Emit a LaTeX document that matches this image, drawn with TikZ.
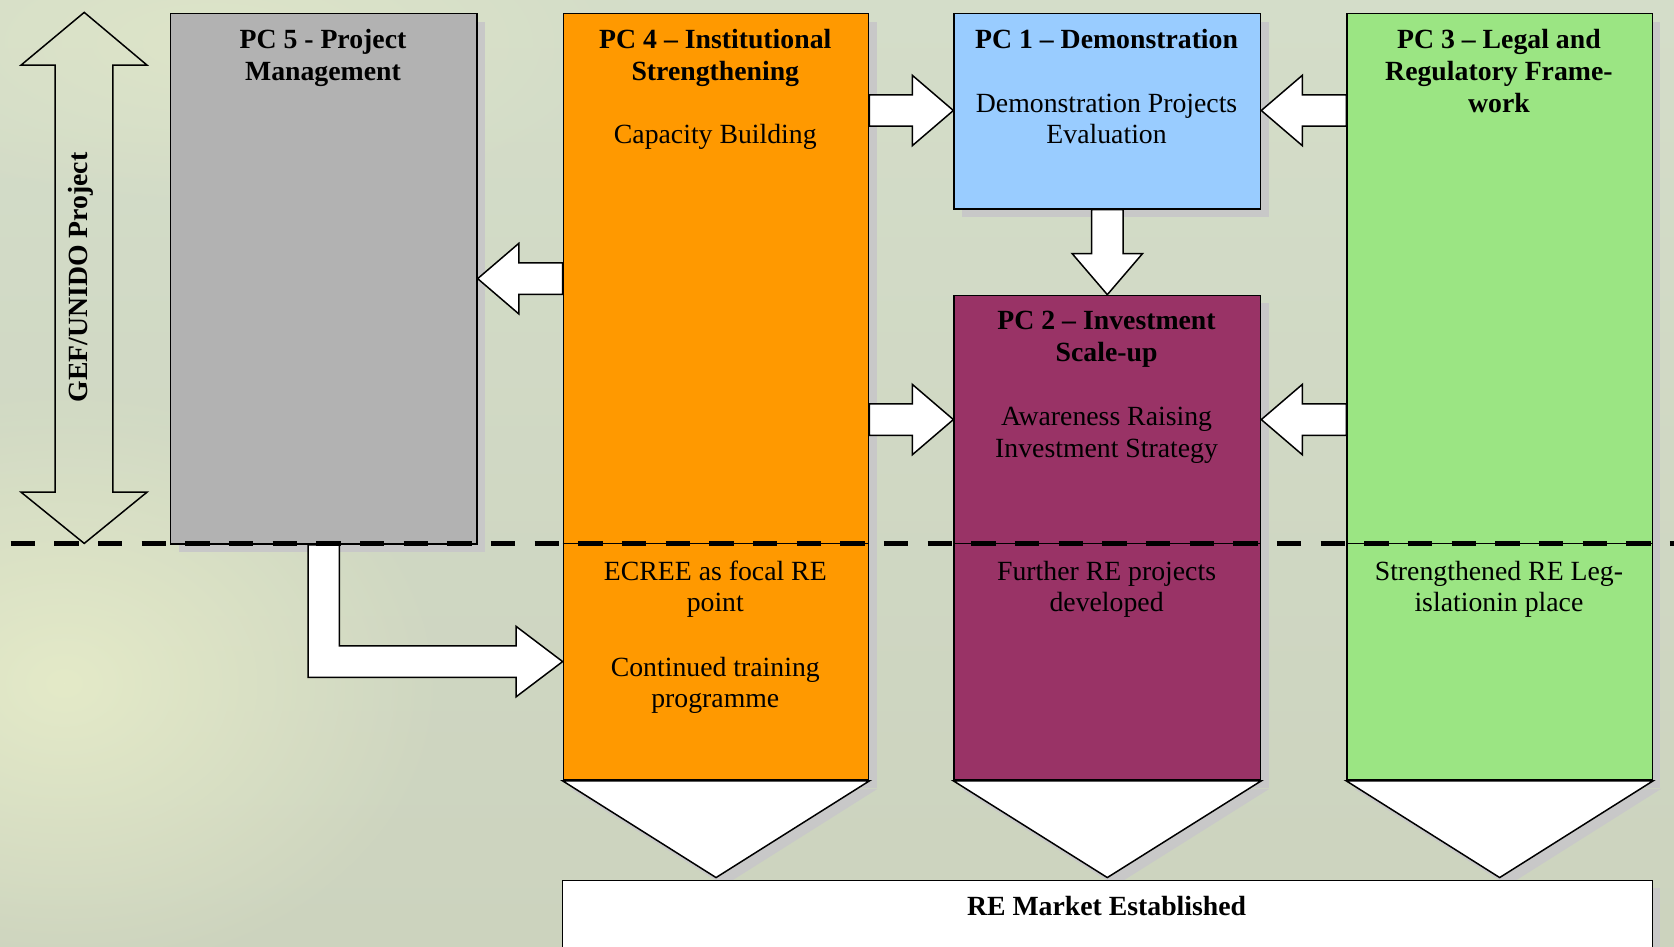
\documentclass[tikz,border=0pt]{standalone}
\usepackage{fontspec}
\setmainfont{Liberation Serif}
\usetikzlibrary{calc,shadows,fadings}
\definecolor{pcgray}{RGB}{178,178,178}
\definecolor{pcorange}{RGB}{255,153,0}
\definecolor{pcblue}{RGB}{153,204,255}
\definecolor{pcmaroon}{RGB}{153,51,102}
\definecolor{pcgreen}{RGB}{155,229,131}
\definecolor{shadowc}{RGB}{200,200,200}
\definecolor{bgtop}{RGB}{212,221,201}
\definecolor{bgmid}{RGB}{194,200,185}
\definecolor{bgbot}{RGB}{204,211,190}
\definecolor{glowc}{RGB}{228,234,200}
\tikzfading[name=myfade, inner color=transparent!0, outer color=transparent!100]
\tikzset{
  shd/.style={drop shadow={shadow xshift=3.75pt, shadow yshift=-3.75pt, fill=shadowc, opacity=1}},
  pcbox/.style={draw=black, line width=0.7pt, rectangle, inner sep=0pt, anchor=north west, shd},
  blk/.style={draw=black, fill=white, line width=0.7pt, line join=miter},
  outl/.style={draw=black, line width=0.7pt, line join=miter},
  txt/.style={align=center, inner sep=0pt, anchor=north, font=\fontsize{13}{14.9}\selectfont},
  ttl/.style={align=center, inner sep=0pt, anchor=north, font=\fontsize{13}{14.9}\selectfont\bfseries},
  divline/.style={line width=0.6pt},
  phase/.style={line width=2.6pt, dash pattern=on 11.4pt off 9.05pt},
}
\newcommand\mkbox[6]{\node[pcbox, fill=#6, minimum width={(#4-#2)*0.5pt}, minimum height={(#5-#3)*0.5pt}] (#1) at (#2,#3) {};}
\newcommand\blockarrow[2]{%
  \coordinate (bah) at ($(#2)!19.25pt!(#1)$);
  \filldraw[blk] ($(#1)!7.35pt!90:(#2)$) -- ($(bah)!7.35pt!90:(#2)$) -- ($(bah)!16.5pt!90:(#2)$) -- (#2)
    -- ($(bah)!16.5pt!-90:(#2)$) -- ($(bah)!7.35pt!-90:(#2)$) -- ($(#1)!7.35pt!-90:(#2)$) -- cycle;}
\begin{document}
\begin{tikzpicture}[x=0.5pt,y=-0.5pt]
\useasboundingbox (0,0) rectangle (1568,887);
\clip (0,0) rectangle (1568,887);
% background
\shade[top color=bgtop, middle color=bgmid, bottom color=bgbot] (0,0) rectangle (1568,887);
\fill[glowc, path fading=myfade] (60,640) ellipse [x radius=360, y radius=280];
\fill[glowc, path fading=myfade, opacity=0.6] (200,40) ellipse [x radius=400, y radius=160];

% double arrow
\draw[outl] (78.9,11.6) -- (137.7,61) -- (105.8,61) -- (105.8,461) -- (137.7,461) -- (78.9,509)
  -- (19.7,461) -- (51.6,461) -- (51.6,61) -- (19.7,61) -- cycle;
\node[ttl, anchor=center, rotate=90] (gef) at (76,260) {GEF/UNIDO Project};

% boxes
\mkbox{pc5}{159}{12}{446}{509}{pcgray}
\mkbox{pc4}{527}{12}{813}{730}{pcorange}
\mkbox{pc1}{893}{12}{1180}{195}{pcblue}
\mkbox{pc2}{893}{276}{1180}{730}{pcmaroon}
\mkbox{pc3}{1261}{12}{1547}{730}{pcgreen}

% arrow levels
\coordinate (lvA) at (0,103.5);
\coordinate (lvB) at (0,393);
\coordinate (lvC) at (0,261);
\coordinate (lvE) at (0,619.7);
\coordinate (a1s) at (pc4.east |- lvA); \coordinate (a1t) at (pc1.west |- lvA);
\coordinate (a2s) at (pc3.west |- lvA); \coordinate (a2t) at (pc1.east |- lvA);
\coordinate (a3s) at (pc4.east |- lvB); \coordinate (a3t) at (pc2.west |- lvB);
\coordinate (a4s) at (pc3.west |- lvB); \coordinate (a4t) at (pc2.east |- lvB);
\coordinate (a5s) at (pc4.west |- lvC); \coordinate (a5t) at (pc5.east |- lvC);
\blockarrow{a1s}{a1t}
\blockarrow{a2s}{a2t}
\blockarrow{a3s}{a3t}
\blockarrow{a4s}{a4t}
\blockarrow{a5s}{a5t}
\blockarrow{pc1.south}{pc2.north}

% elbow arrow PC5 -> PC4
\coordinate (eS) at (pc5.south);
\coordinate (eT) at (pc4.west |- lvE);
\coordinate (eC) at (eS |- eT);
\filldraw[blk] ($(eS)+(-14.7,0)$) -- ($(eC)+(-14.7,14.7)$) -- ($(eT)+(-43.6,14.7)$) -- ($(eT)+(-43.6,33)$)
  -- (eT) -- ($(eT)+(-43.6,-33)$) -- ($(eT)+(-43.6,-14.7)$) -- ($(eC)+(14.7,-14.7)$) -- ($(eS)+(14.7,0)$) -- cycle;

% chevrons
\coordinate (tipl) at (0,822);
\filldraw[blk, shd] (pc4.south west) -- (pc4.south east) -- (pc4.south |- tipl) -- cycle;
\filldraw[blk, shd] (pc2.south west) -- (pc2.south east) -- (pc2.south |- tipl) -- cycle;
\filldraw[blk, shd] (pc3.south west) -- (pc3.south east) -- (pc3.south |- tipl) -- cycle;

% market box
\mkbox{mkt}{526}{824}{1547}{910}{white}

% texts
\node[ttl] (t5) at (302.5,24.1) {\strut PC 5 - Project\\Management};
\node[ttl] (t4) at (670,24.1) {\strut PC 4 – Institutional\\Strengthening};
\node[txt] (b4) at (670,113.5) {\strut Capacity Building};
\node[txt] (c4a) at (670,522.1) {\strut ECREE as focal RE\\point};
\node[txt] (c4b) at (670,612.1) {\strut Continued training\\programme};
\node[ttl] (t1) at (1036.5,24.1) {\strut PC 1 – Demonstration};
\node[txt] (b1) at (1036.5,83.7) {\strut Demonstration Projects\\Evaluation};
\node[ttl] (t2) at (1036.5,287.1) {\strut PC 2 – Investment\\Scale-up};
\node[txt] (b2) at (1036.5,377.1) {\strut Awareness Raising\\Investment Strategy};
\node[txt] (c2) at (1036.5,522.1) {\strut Further RE projects\\developed};
\node[ttl] (t3) at (1404,24.1) {\strut PC 3 – Legal and\\Regulatory Frame-\\work};
\node[txt] (c3) at (1404,522.1) {\strut Strengthened RE Leg-\\islationin place};
\node[ttl] (tm) at (1036.5,836.1) {\strut RE Market Established};

% phase divider
\coordinate (dl) at (10,509);
\coordinate (dr) at (1568,509);
\draw[divline] (pc4.west |- dl) -- (pc4.east |- dl);
\draw[divline] (pc2.west |- dl) -- (pc2.east |- dl);
\draw[divline] (pc3.west |- dl) -- (pc3.east |- dl);
\draw[phase] (dl) -- (dr);
\end{tikzpicture}
\end{document}
